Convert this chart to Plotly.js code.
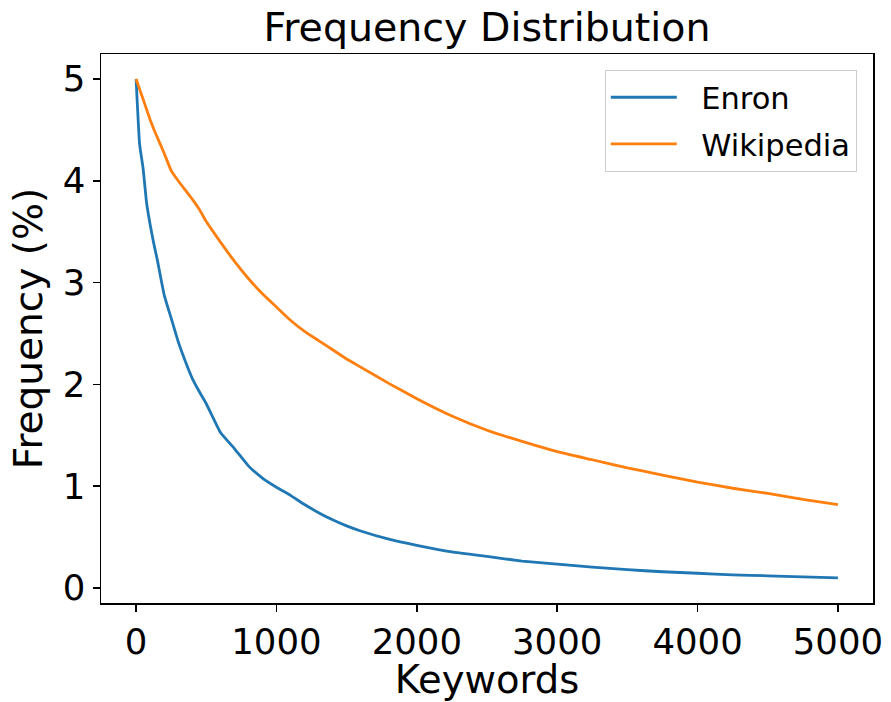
<!DOCTYPE html>
<html>
<head>
<meta charset="utf-8">
<script src="https://cdn.plot.ly/plotly-3.0.1.min.js"></script>
<style>html,body{margin:0;padding:0;background:#fff;}#chart{width:891px;height:702px;}</style>
</head>
<body>
<div id="chart"></div>
<script>
const keywords = [0, 25, 50, 75, 100, 125, 150, 200, 250, 300, 350, 400, 450, 500, 600, 700, 800, 900, 1000, 1100, 1200, 1300, 1400, 1500, 1600, 1800, 2000, 2250, 2500, 2750, 3000, 3250, 3500, 3750, 4000, 4250, 4500, 4750, 5000];
const enron = [5.0, 4.36, 4.12, 3.78, 3.57, 3.39, 3.23, 2.88, 2.65, 2.42, 2.23, 2.06, 1.93, 1.81, 1.53, 1.37, 1.2, 1.08, 0.99, 0.91, 0.82, 0.74, 0.67, 0.61, 0.56, 0.48, 0.42, 0.355, 0.31, 0.265, 0.235, 0.205, 0.18, 0.16, 0.145, 0.13, 0.12, 0.11, 0.1];
const wikipedia = [5.0, 4.9, 4.8, 4.7, 4.6, 4.51, 4.43, 4.27, 4.1, 4.0, 3.91, 3.82, 3.72, 3.6, 3.4, 3.21, 3.04, 2.89, 2.76, 2.63, 2.52, 2.43, 2.34, 2.25, 2.17, 2.01, 1.86, 1.69, 1.55, 1.44, 1.34, 1.26, 1.18, 1.11, 1.04, 0.98, 0.93, 0.87, 0.82];
const seriesNames = ["Enron", "Wikipedia"];
const xTicks = [0, 1000, 2000, 3000, 4000, 5000];
const yTicks = [0, 1, 2, 3, 4, 5];

const font = "DejaVu Sans, sans-serif";
const pad = "\u00a0\u00a0";
const traces = [
  {x: keywords, y: enron, name: pad + seriesNames[0], legendgroup: "g1", mode: "lines",
   line: {color: "#1f77b4", width: 2.8, shape: "spline", smoothing: 0.4}},
  {x: keywords, y: wikipedia, name: pad + seriesNames[1], legendgroup: "g2", mode: "lines",
   line: {color: "#ff7f0e", width: 2.8, shape: "spline", smoothing: 0.4}}
];
const axisCommon = {
  showline: true, mirror: true, linecolor: "#000", linewidth: 1.5,
  ticks: "outside", ticklen: 7, tickwidth: 1.5, tickcolor: "#000",
  showgrid: false, zeroline: false,
  tickfont: {family: font, size: 35.5, color: "#000"}
};
const layout = {
  width: 891, height: 702,
  paper_bgcolor: "#fff", plot_bgcolor: "#fff",
  margin: {l: 101, r: 18, t: 54, b: 99},
  title: {text: "Frequency Distribution", font: {family: font, size: 39.5, color: "#000"},
          x: 0.5465, xanchor: "center", y: 0.962, yanchor: "middle"},
  xaxis: Object.assign({}, axisCommon, {
    range: [-250, 5250], tickvals: xTicks, ticktext: xTicks.map(String),
    title: {text: "Keywords", font: {family: font, size: 38.5, color: "#000"}, standoff: 6}
  }),
  yaxis: Object.assign({}, axisCommon, {
    range: [-0.147, 5.245], tickvals: yTicks, ticktext: yTicks.map(String),
    title: {text: "Frequency (%)", font: {family: font, size: 39, color: "#000"}, standoff: 8}
  }),
  legend: {x: 0.979, xanchor: "right", y: 0.971, yanchor: "top",
           bgcolor: "rgba(255,255,255,0.8)", bordercolor: "#ccc", borderwidth: 1,
           font: {family: font, size: 30.5, color: "#000"}, itemwidth: 66,
           traceorder: "grouped", tracegroupgap: 4},
  showlegend: true
};
Plotly.newPlot("chart", traces, layout, {displayModeBar: false, staticPlot: true});
</script>
</body>
</html>
